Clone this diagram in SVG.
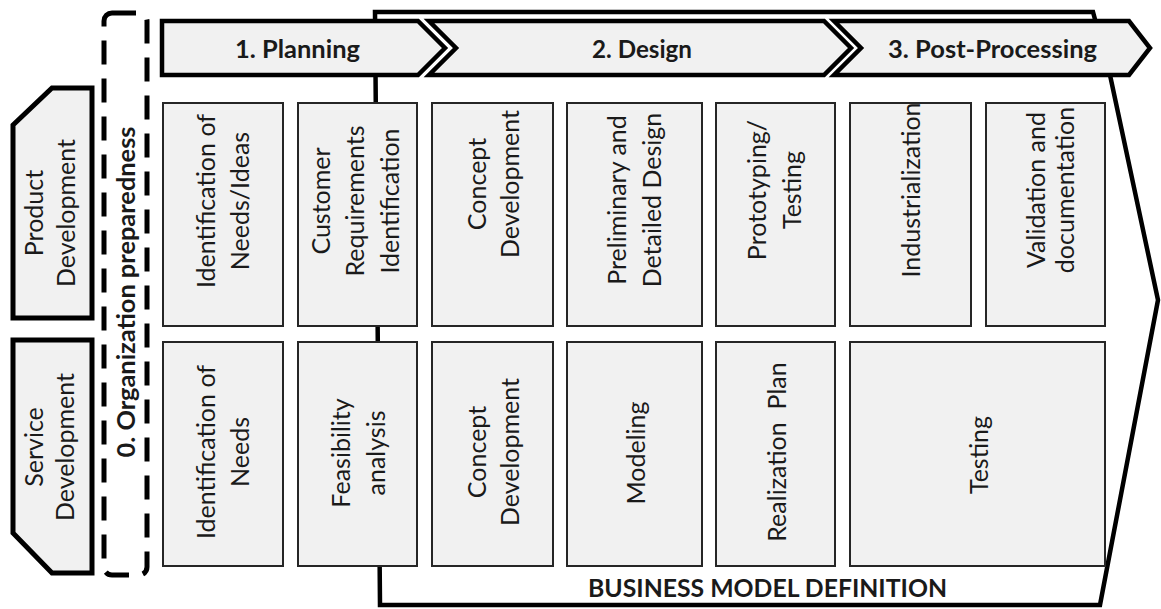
<svg xmlns="http://www.w3.org/2000/svg" width="1161" height="609" viewBox="0 0 1161 609">
  <style>
    .t { font-family: Lato, "Liberation Sans", sans-serif; font-size: 25px; fill: #1a1a1a; }
    .b { font-weight: bold; }
    .box { fill: #f1f1f1; stroke: #262626; stroke-width: 2; }
    .arrow { fill: #f1f1f1; stroke: #000; stroke-width: 4.5; stroke-linejoin: miter; }
    .side { fill: #f1f1f1; stroke: #000; stroke-width: 5; stroke-linejoin: miter; }
  </style>
  <rect width="1161" height="609" fill="#fff"/>

  <g id="business-model">
    <path d="M375,12 L1093,12 L1110,75 L1158,300 L1100,605 L380,605 Z" fill="#fff" stroke="#000" stroke-width="4.5" stroke-linejoin="miter"/>
    <text class="t b" x="767.5" y="597" text-anchor="middle" textLength="359" lengthAdjust="spacingAndGlyphs">BUSINESS MODEL DEFINITION</text>
  </g>

  <g id="organization-preparedness">
    <rect x="104" y="13" width="43" height="562" rx="8" fill="none" stroke="#000" stroke-width="5" stroke-dasharray="24 14"/>
    <text class="t b" transform="translate(135,292) rotate(-90)" text-anchor="middle" textLength="331" lengthAdjust="spacingAndGlyphs">0. Organization preparedness</text>
  </g>

  <g id="product-development">
    <path class="side" d="M52,88 L92,88 L92,318 L13,318 L13,125 Z"/>
    <text class="t" transform="translate(43,213) rotate(-90)" text-anchor="middle"><tspan x="0">Product</tspan><tspan x="0" dy="32">Development</tspan></text>
  </g>

  <g id="service-development">
    <path class="side" d="M13,340 L92,340 L92,573 L52,573 L13,533 Z"/>
    <text class="t" transform="translate(43,447) rotate(-90)" text-anchor="middle"><tspan x="0">Service</tspan><tspan x="0" dy="31">Development</tspan></text>
  </g>

  <g id="phase-planning">
    <path class="arrow" d="M162,21 L418,21 L445,48 L418,75 L162,75 Z"/>
    <text class="t b" x="297.5" y="58" text-anchor="middle" textLength="125" lengthAdjust="spacingAndGlyphs">1. Planning</text>
  </g>

  <g id="phase-design">
    <path class="arrow" d="M429,21 L824,21 L851,48 L824,75 L429,75 L456,48 Z"/>
    <text class="t b" x="642" y="58" text-anchor="middle" textLength="100" lengthAdjust="spacingAndGlyphs">2. Design</text>
  </g>

  <g id="phase-post-processing">
    <path class="arrow" d="M834,21 L1129,21 L1150,48 L1129,75 L834,75 L861,48 Z"/>
    <text class="t b" x="992.5" y="58" text-anchor="middle" textLength="209" lengthAdjust="spacingAndGlyphs">3. Post-Processing</text>
  </g>

  <g id="p-needs-ideas">
    <rect class="box" x="163" y="103" width="120" height="223"/>
    <text class="t" transform="translate(215,201) rotate(-90)" text-anchor="middle"><tspan x="0">Identification of</tspan><tspan x="0" dy="34">Needs/Ideas</tspan></text>
  </g>
  <g id="p-customer-requirements">
    <rect class="box" x="298" y="103" width="119" height="223"/>
    <text class="t" transform="translate(330,201) rotate(-90)" text-anchor="middle"><tspan x="0">Customer</tspan><tspan x="0" dy="34.3">Requirements</tspan><tspan x="0" dy="34.3">Identification</tspan></text>
  </g>
  <g id="p-concept-development">
    <rect class="box" x="432" y="103" width="121" height="223"/>
    <text class="t" transform="translate(486,184) rotate(-90)" text-anchor="middle"><tspan x="0">Concept</tspan><tspan x="0" dy="33">Development</tspan></text>
  </g>
  <g id="p-preliminary-design">
    <rect class="box" x="567" y="103" width="135" height="223"/>
    <text class="t" transform="translate(626,200) rotate(-90)" text-anchor="middle"><tspan x="0">Preliminary and</tspan><tspan x="0" dy="35">Detailed Design</tspan></text>
  </g>
  <g id="p-prototyping">
    <rect class="box" x="716" y="103" width="119" height="223"/>
    <text class="t" transform="translate(766,190) rotate(-90)" text-anchor="middle"><tspan x="0">Prototyping/</tspan><tspan x="0" dy="35">Testing</tspan></text>
  </g>
  <g id="p-industrialization">
    <rect class="box" x="850" y="103" width="121" height="223"/>
    <text class="t" transform="translate(920,190) rotate(-90)" text-anchor="middle">Industrialization</text>
  </g>
  <g id="p-validation">
    <rect class="box" x="986" y="103" width="119" height="223"/>
    <text class="t" transform="translate(1045,190) rotate(-90)" text-anchor="middle"><tspan x="0">Validation and</tspan><tspan x="0" dy="29">documentation</tspan></text>
  </g>

  <g id="s-needs">
    <rect class="box" x="163" y="342" width="120" height="224"/>
    <text class="t" transform="translate(215,452) rotate(-90)" text-anchor="middle"><tspan x="0">Identification of</tspan><tspan x="0" dy="34">Needs</tspan></text>
  </g>
  <g id="s-feasibility">
    <rect class="box" x="298" y="342" width="119" height="224"/>
    <text class="t" transform="translate(349.5,453) rotate(-90)" text-anchor="middle"><tspan x="0">Feasibility</tspan><tspan x="0" dy="35">analysis</tspan></text>
  </g>
  <g id="s-concept-development">
    <rect class="box" x="432" y="342" width="121" height="224"/>
    <text class="t" transform="translate(486,452) rotate(-90)" text-anchor="middle"><tspan x="0">Concept</tspan><tspan x="0" dy="33">Development</tspan></text>
  </g>
  <g id="s-modeling">
    <rect class="box" x="567" y="342" width="135" height="224"/>
    <text class="t" transform="translate(645,453) rotate(-90)" text-anchor="middle">Modeling</text>
  </g>
  <g id="s-realization-plan">
    <rect class="box" x="716" y="342" width="119" height="224"/>
    <text class="t" transform="translate(786,452) rotate(-90)" text-anchor="middle" xml:space="preserve">Realization  Plan</text>
  </g>
  <g id="s-testing">
    <rect class="box" x="850" y="342" width="255" height="224"/>
    <text class="t" transform="translate(988,455) rotate(-90)" text-anchor="middle">Testing</text>
  </g>
</svg>
